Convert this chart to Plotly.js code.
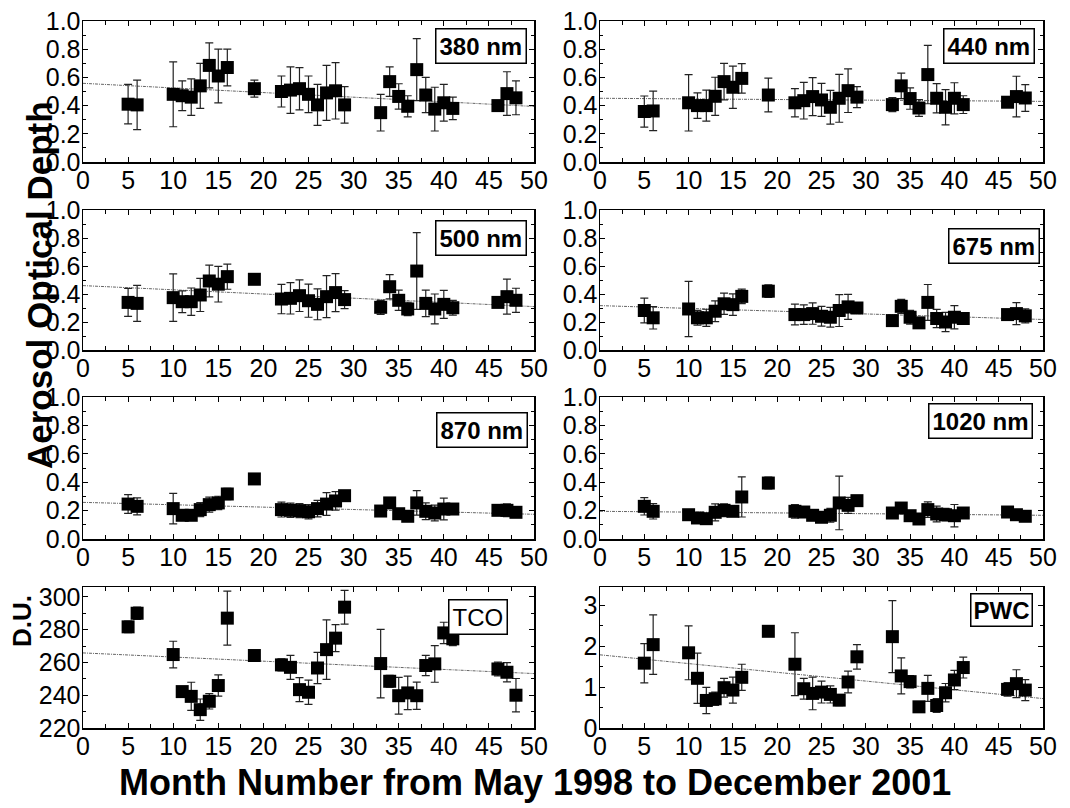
<!DOCTYPE html>
<html><head><meta charset="utf-8">
<script src="https://cdn.plot.ly/plotly-3.0.1.min.js"></script>
<style>html,body{margin:0;padding:0;background:#fff}#chart{width:1070px;height:808px}</style>
</head><body><div id="chart"></div>
<script>
const months = [5,6,10,11,12,13,14,15,16,19,22,23,24,25,26,27,28,29,33,34,35,36,37,38,39,40,41,46,47,48];

const aod380 = [0.41,0.405,0.48,0.47,0.46,0.54,0.685,0.61,0.67,0.52,0.50,0.51,0.52,0.48,0.405,0.49,0.505,0.405,0.35,0.57,0.465,0.395,0.655,0.475,0.375,0.42,0.38,0.40,0.485,0.455];
const err380 = [0.14,0.175,0.23,0.105,0.13,0.16,0.16,0.19,0.13,0.06,0.11,0.165,0.15,0.13,0.145,0.195,0.2,0.13,0.13,0.105,0.09,0.075,0.22,0.125,0.155,0.13,0.08,0.01,0.155,0.12];

const aod440 = [0.358,0.362,0.42,0.40,0.40,0.466,0.57,0.53,0.593,0.475,0.42,0.435,0.464,0.44,0.388,0.452,0.506,0.46,0.407,0.54,0.45,0.383,0.62,0.452,0.388,0.452,0.407,0.424,0.464,0.454];
const err440 = [0.11,0.14,0.2,0.09,0.11,0.135,0.13,0.15,0.105,0.12,0.1,0.13,0.135,0.117,0.12,0.17,0.155,0.075,0.05,0.09,0.076,0.06,0.207,0.104,0.125,0.11,0.063,0.01,0.144,0.095];

const aod500 = [0.34,0.333,0.374,0.345,0.345,0.393,0.493,0.47,0.524,0.505,0.364,0.369,0.388,0.352,0.326,0.381,0.41,0.36,0.305,0.452,0.355,0.293,0.564,0.333,0.293,0.326,0.302,0.34,0.381,0.355];
const err500 = [0.1,0.128,0.17,0.078,0.098,0.118,0.113,0.127,0.09,0.015,0.105,0.112,0.113,0.118,0.11,0.15,0.136,0.064,0.05,0.087,0.072,0.048,0.274,0.094,0.107,0.1,0.053,0.015,0.125,0.086];

const aod675 = [0.282,0.23,0.293,0.23,0.23,0.277,0.33,0.324,0.383,0.42,0.253,0.253,0.26,0.241,0.234,0.282,0.308,0.30,0.21,0.312,0.234,0.194,0.34,0.225,0.20,0.234,0.225,0.253,0.26,0.244];
const err675 = [0.088,0.08,0.197,0.053,0.061,0.074,0.076,0.077,0.052,0.045,0.074,0.07,0.076,0.071,0.071,0.114,0.089,0.01,0.01,0.05,0.049,0.01,0.128,0.065,0.069,0.083,0.03,0.01,0.079,0.05];

const aod870 = [0.246,0.23,0.214,0.167,0.167,0.207,0.242,0.254,0.317,0.423,0.207,0.202,0.20,0.192,0.214,0.246,0.268,0.305,0.197,0.254,0.178,0.16,0.254,0.195,0.183,0.211,0.211,0.202,0.202,0.188];
const err870 = [0.066,0.06,0.107,0.01,0.015,0.05,0.053,0.047,0.04,0.015,0.052,0.05,0.049,0.05,0.058,0.08,0.065,0.01,0.01,0.015,0.015,0.01,0.086,0.059,0.055,0.077,0.01,0.02,0.045,0.02];

const aod1020 = [0.23,0.195,0.171,0.148,0.143,0.188,0.202,0.195,0.296,0.394,0.195,0.19,0.167,0.153,0.167,0.254,0.237,0.27,0.183,0.218,0.164,0.141,0.207,0.176,0.171,0.164,0.183,0.19,0.171,0.16];
const err1020 = [0.061,0.054,0.01,0.01,0.01,0.06,0.045,0.01,0.141,0.042,0.048,0.038,0.015,0.01,0.049,0.189,0.056,0.01,0.01,0.01,0.01,0.01,0.055,0.056,0.044,0.079,0.01,0.035,0.015,0.01];

const tco = [281.7,290,264.8,242.2,239.3,231.2,236.3,245.9,287,264.2,258.5,257,243.4,241.8,256.6,267.8,274.8,293.7,259.3,248.5,239.7,241.4,239.7,258.1,259.1,278,274.4,256,254,240];
const errTco = [3.5,3.7,8.1,2.7,8.6,6.5,4.7,6.5,16.5,1,3.7,7.3,7.3,7.4,9.5,18.1,8.2,10.3,20.9,3.6,11.2,10.2,8.3,6.2,11.2,6.5,4.1,4.2,5.9,10.2];

const pwc = [1.586,2.04,1.84,1.216,0.674,0.715,0.986,0.928,1.24,2.366,1.56,0.961,0.846,0.879,0.822,0.682,1.126,1.742,2.235,1.274,1.134,0.518,0.97,0.55,0.863,1.175,1.479,0.945,1.085,0.928];
const errPwc = [0.48,0.73,0.66,0.615,0.32,0.165,0.23,0.317,0.32,0.02,0.77,0.255,0.4,0.267,0.21,0.135,0.267,0.3,0.88,0.44,0.15,0.02,0.32,0.17,0.226,0.234,0.255,0.165,0.34,0.258];

const panelLabels = ['380 nm','440 nm','500 nm','675 nm','870 nm','1020 nm','TCO','PWC'];
const trendX = [0, 50];
const trendStart = [0.558,0.452,0.46,0.317,0.258,0.195,265.8,1.79];
const trendEnd = [0.394,0.43,0.31,0.218,0.174,0.167,253.2,0.72];
const xTitle = 'Month Number from May 1998 to December 2001';
const yTitleAod = 'Aerosol Optical Depth';
const yTitleDu = 'D.U.';

const series = [aod380, aod440, aod500, aod675, aod870, aod1020, tco, pwc];
const errors = [err380, err440, err500, err675, err870, err1020, errTco, errPwc];

const W = 1070, H = 808;
const colDom = [[83/W, 534/W], [600/W, 1043/W]];
const rowPx = [[21,162],[210,350],[397,539],[587,728]];
const FONT = 'Liberation Sans, Arial, Helvetica, sans-serif';

const traces = [];
const layout = {
  width: W, height: H,
  margin: {l:0, r:0, t:0, b:0},
  paper_bgcolor: '#fff', plot_bgcolor: '#fff',
  showlegend: false, hovermode: false,
  font: {family: FONT, color: '#000', size: 25},
  annotations: []
};

// label box positions (right edge px, top px)
const boxPos = [[527,28],[1035,28],[527,220],[1040,228],[528,412],[1033,403],[508,599],[1033,593]];

for (let i = 0; i < 8; i++) {
  const n = i + 1;
  const xa = n === 1 ? 'x' : 'x' + n;
  const ya = n === 1 ? 'y' : 'y' + n;
  const row = Math.floor(i / 2), col = i % 2;
  traces.push({
    type: 'scatter', mode: 'lines', x: trendX, y: [trendStart[i], trendEnd[i]],
    xaxis: xa, yaxis: ya,
    line: {color: '#666', width: 1, dash: '3px,1px,1px,1px'}
  });
  traces.push({
    type: 'scatter', mode: 'markers', x: months, y: series[i],
    xaxis: xa, yaxis: ya,
    marker: {symbol: 'square', size: 13, color: '#000'},
    error_y: {type: 'data', array: errors[i], visible: true, color: '#222', thickness: 1.2, width: 4}
  });
  const xKey = n === 1 ? 'xaxis' : 'xaxis' + n;
  const yKey = n === 1 ? 'yaxis' : 'yaxis' + n;
  layout[xKey] = {
    domain: colDom[col], anchor: ya, range: [0, 50], dtick: 5, tick0: 0,
    ticks: 'inside', ticklen: 5, tickwidth: 1, tickcolor: '#000',
    minor: {dtick: 2.5, ticks: 'inside', ticklen: 4, tickcolor: '#000'},
    showline: true, linecolor: '#000', linewidth: 1.5, mirror: 'allticks',
    showgrid: false, zeroline: false, ticklabelstandoff: -5,
    tickfont: {family: FONT, size: 25, color: '#000'}
  };
  let yr, dt, mdt, fmt;
  if (i < 6) { yr = [0, 1]; dt = 0.2; mdt = 0.1; fmt = '.1f'; }
  else if (i === 6) { yr = [220, 306]; dt = 20; mdt = 10; fmt = 'd'; }
  else { yr = [0, 3.45]; dt = 1; mdt = 0.5; fmt = 'd'; }
  layout[yKey] = {
    domain: [1 - rowPx[row][1]/H, 1 - rowPx[row][0]/H], anchor: xa,
    range: yr, dtick: dt, tick0: 0, tickformat: fmt,
    ticks: 'inside', ticklen: 5, tickwidth: 1, tickcolor: '#000',
    minor: {dtick: mdt, ticks: 'inside', ticklen: 3, tickcolor: '#000'},
    showline: true, linecolor: '#000', linewidth: 1.5, mirror: 'allticks',
    showgrid: false, zeroline: false, ticklabelstandoff: -4,
    tickfont: {family: FONT, size: 25, color: '#000'}
  };
  const isBold = i !== 6;
  layout.annotations.push({
    xref: 'paper', yref: 'paper',
    x: boxPos[i][0]/W, y: 1 - boxPos[i][1]/H, xanchor: 'right', yanchor: 'top',
    text: isBold ? '<b>' + panelLabels[i] + '</b>' : panelLabels[i],
    showarrow: false,
    font: {family: FONT, size: 24, color: '#000'},
    bgcolor: '#fff', bordercolor: '#000', borderwidth: 1.5, borderpad: i === 7 ? 2 : 3
  });
}

layout.annotations.push({
  xref: 'paper', yref: 'paper', x: 39/W, y: 1 - 285/H, xanchor: 'center', yanchor: 'middle',
  text: '<b>' + yTitleAod + '</b>', textangle: -90, showarrow: false,
  font: {family: FONT, size: 35, color: '#000'}
});
layout.annotations.push({
  xref: 'paper', yref: 'paper', x: 22/W, y: 1 - 621/H, xanchor: 'center', yanchor: 'middle',
  text: '<b>' + yTitleDu + '</b>', textangle: -90, showarrow: false,
  font: {family: FONT, size: 26, color: '#000'}
});
layout.annotations.push({
  xref: 'paper', yref: 'paper', x: 535/W, y: 1 - 782/H, xanchor: 'center', yanchor: 'middle',
  text: '<b>' + xTitle + '</b>', showarrow: false,
  font: {family: FONT, size: 36, color: '#000'}
});

Plotly.newPlot('chart', traces, layout, {staticPlot: true, displayModeBar: false});
</script>
</body></html>
